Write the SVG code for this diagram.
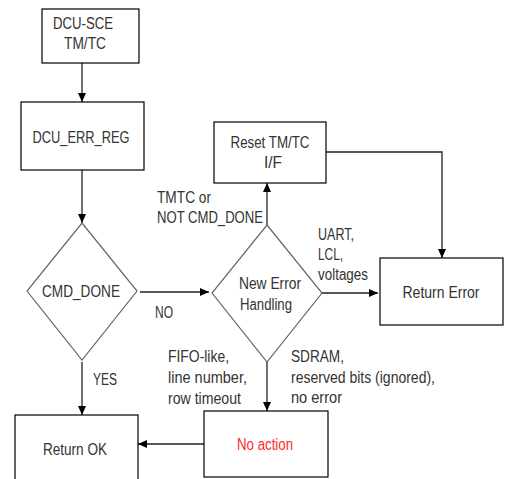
<svg xmlns="http://www.w3.org/2000/svg" width="508" height="479" viewBox="0 0 508 479">
<defs>
<marker id="ah" markerUnits="userSpaceOnUse" markerWidth="9" markerHeight="8" refX="9" refY="4" orient="auto">
<path d="M0,0 L9,4 L0,8 z" fill="#000"/>
</marker>
<style>
.box{fill:#fff;stroke:#000;stroke-width:1.2}
.dia{fill:#fff;stroke:#666;stroke-width:1.2}
.t{font-family:"Liberation Sans",Arial,sans-serif;font-size:16px;fill:#333}
.c{text-anchor:middle}
.red{fill:#ff2a2a}
.con{fill:none;stroke:#222;stroke-width:1.3}
</style>
</defs>
<rect width="508" height="479" fill="#fff"/>
<g id="connectors">
<line class="con" x1="82" y1="63" x2="82" y2="102" marker-end="url(#ah)"/>
<line class="con" x1="82" y1="170" x2="82" y2="223" marker-end="url(#ah)"/>
<line class="con" x1="82" y1="362" x2="82" y2="415" marker-end="url(#ah)"/>
<line class="con" x1="140" y1="292" x2="209" y2="292" marker-end="url(#ah)"/>
<line class="con" x1="267" y1="225" x2="267" y2="183" marker-end="url(#ah)"/>
<line class="con" x1="322" y1="293" x2="378" y2="293" marker-end="url(#ah)"/>
<polyline class="con" points="326,152 442,152 442,258" marker-end="url(#ah)"/>
<line class="con" x1="267" y1="362" x2="267" y2="411" marker-end="url(#ah)"/>
<line class="con" x1="204" y1="444" x2="138" y2="444" marker-end="url(#ah)"/>
</g>
<g id="dcu-sce">
<rect class="box" x="42" y="9" width="97" height="54"/>
<text class="t c" x="83" y="29" textLength="60" lengthAdjust="spacingAndGlyphs">DCU-SCE</text>
<text class="t c" x="85" y="49" textLength="42" lengthAdjust="spacingAndGlyphs">TM/TC</text>
</g>
<g id="dcu-err-reg">
<rect class="box" x="21" y="102" width="123" height="68"/>
<text class="t c" x="81" y="143" textLength="97" lengthAdjust="spacingAndGlyphs">DCU_ERR_REG</text>
</g>
<g id="cmd-done">
<polygon class="dia" points="82,223 137,291 82,360 27,291"/>
<text class="t c" x="81" y="297" textLength="78" lengthAdjust="spacingAndGlyphs">CMD_DONE</text>
</g>
<g id="new-error">
<polygon class="dia" points="267,225 322,293 267,362 212,293"/>
<text class="t c" x="270" y="289" textLength="62" lengthAdjust="spacingAndGlyphs">New Error</text>
<text class="t c" x="266" y="310" textLength="52" lengthAdjust="spacingAndGlyphs">Handling</text>
</g>
<g id="reset">
<rect class="box" x="214" y="122" width="112" height="61"/>
<text class="t c" x="270" y="148" textLength="79" lengthAdjust="spacingAndGlyphs">Reset TM/TC</text>
<text class="t c" x="273" y="168" textLength="18" lengthAdjust="spacingAndGlyphs">I/F</text>
</g>
<g id="return-error">
<rect class="box" x="380" y="258" width="123" height="67"/>
<text class="t c" x="441" y="298" textLength="77" lengthAdjust="spacingAndGlyphs">Return Error</text>
</g>
<g id="return-ok">
<rect class="box" x="15" y="415" width="123" height="75"/>
<text class="t c" x="75" y="455" textLength="64" lengthAdjust="spacingAndGlyphs">Return OK</text>
</g>
<g id="no-action">
<rect class="box" x="204" y="411" width="124" height="66"/>
<text class="t c red" x="265" y="450" textLength="56" lengthAdjust="spacingAndGlyphs">No action</text>
</g>
<g id="labels">
<text class="t" x="155" y="318" textLength="18" lengthAdjust="spacingAndGlyphs">NO</text>
<text class="t" x="93" y="385" textLength="24" lengthAdjust="spacingAndGlyphs">YES</text>
<text class="t" x="157" y="203" textLength="54" lengthAdjust="spacingAndGlyphs">TMTC or</text>
<text class="t" x="157" y="223" textLength="106" lengthAdjust="spacingAndGlyphs">NOT CMD_DONE</text>
<text class="t" x="318" y="240" textLength="36" lengthAdjust="spacingAndGlyphs">UART,</text>
<text class="t" x="318" y="260" textLength="25" lengthAdjust="spacingAndGlyphs">LCL,</text>
<text class="t" x="318" y="280" textLength="50" lengthAdjust="spacingAndGlyphs">voltages</text>
<text class="t" x="168" y="362" textLength="61" lengthAdjust="spacingAndGlyphs">FIFO-like,</text>
<text class="t" x="168" y="383" textLength="79" lengthAdjust="spacingAndGlyphs">line number,</text>
<text class="t" x="168" y="404" textLength="73" lengthAdjust="spacingAndGlyphs">row timeout</text>
<text class="t" x="291" y="362" textLength="53" lengthAdjust="spacingAndGlyphs">SDRAM,</text>
<text class="t" x="291" y="383" textLength="144" lengthAdjust="spacingAndGlyphs">reserved bits (ignored),</text>
<text class="t" x="291" y="403" textLength="51" lengthAdjust="spacingAndGlyphs">no error</text>
</g>
</svg>
